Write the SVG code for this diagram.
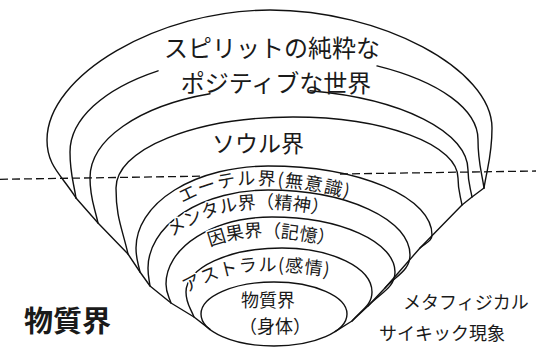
<svg xmlns="http://www.w3.org/2000/svg" width="536" height="348" viewBox="0 0 536 348">
<style>
.ln{fill:none;stroke:#111;stroke-width:1.4;stroke-linecap:round;stroke-linejoin:round}
.dash{fill:none;stroke:#111;stroke-width:1.3;stroke-dasharray:8 4}
.t{font-family:"Noto Sans CJK JP","Noto Sans CJK SC",sans-serif;fill:#1a1a1a}
.halo{stroke:#fff;stroke-width:3;paint-order:stroke;stroke-linejoin:round}
</style>
<defs>
<path id="pEther" d="M178,206 Q218,182 265,185 T352,199"/>
<path id="pMental" d="M168,240 Q205,212 250,209 T340,220"/>
<path id="pCausal" d="M206,248 Q240,235 272,237 T340,248"/>
<path id="pAstral" d="M184,295 Q222,271 262,271 T336,278"/>
</defs>
<rect width="536" height="348" fill="#fff"/>
<g id="connectors">
<path class="dash" d="M0,179.3 L200,176.2 M340,174 L536,171"/>
<path class="ln" d="M76,198 L98,223 L128,254 L140,272 L150,286 L171,303 L194,317 L210,329.4"/>
<path class="ln" d="M484,188 L472,197 L462,205 L420,248 L385,288 L368,306 L352,321 L335,331.6"/>
</g>
<g id="spirit">
<path class="ln" d="M76,198 C61.5,174.8 47,166.1 47,140 C47,75 158.5,10 270,10 C381,10 492,69 492,128 C492,155 488,164 484,188"/>
<path class="ln" d="M76,198 C73,179.6 70,172.7 70,152 A200,98 0 0 1 158,70.8 M377,65.9 A208,86 0 0 1 478,140 C478,161.6 481,168.8 484,188"/>
<path class="ln" d="M98,223 C94,205 90,198.25 90,178 A178,89 0 0 1 210,93.8 M310,90.8 A200,81 0 0 1 468,170 C468,182.2 470,186.2 472,197"/>
<text class="t" x="272" y="57" font-size="24" text-anchor="middle">スピリットの純粋な</text>
<text class="t" x="276" y="92" font-size="24" text-anchor="middle">ポジティブな世界</text>
</g>
<g id="soul">
<path class="ln" d="M128,254 C122,227.6 116,217.7 116,188 A177,71 0 0 1 293,117 A165,61 0 0 1 458,178 C458,190.2 460,194.2 462,205"/>
<text class="t" x="258" y="152" font-size="23" text-anchor="middle">ソウル界</text>
</g>
<g id="ether">
<path class="ln" d="M140,272 C138,262.4 136,258.8 136,248 A132,82 0 0 1 268,166 A164,69 0 0 1 432,235 C432,240.9 426,242.8 420,248"/>
<text class="t halo" font-size="18" letter-spacing="1.5"><textPath href="#pEther" startOffset="5">エーテル界(無意識)</textPath></text>
</g>
<g id="mental">
<path class="ln" d="M150,286 C149,278.8 148,276.1 148,268 A120,78 0 0 1 268,190 A142,65 0 0 1 410,255 C410,269.9 397.5,274.8 385,288"/>
<text class="t halo" font-size="18"><textPath href="#pMental" startOffset="5">メンタル界（精神）</textPath></text>
</g>
<g id="causal">
<path class="ln" d="M171,303 C168.5,295.4 166,292.6 166,284 A106,67 0 0 1 272,217 A123,55 0 0 1 395,272 C395,287.3 381.5,292.4 368,306"/>
<text class="t halo" font-size="18"><textPath href="#pCausal" startOffset="4">因果界（記憶）</textPath></text>
</g>
<g id="astral">
<path class="ln" d="M194,317 C190,307 186,303.3 186,292 A96,44 0 0 1 282,248 A90,44 0 0 1 372,292 C372,305 362,309.4 352,321"/>
<text class="t halo" font-size="18" letter-spacing="1"><textPath href="#pAstral" startOffset="3">アストラル(感情)</textPath></text>
</g>
<g id="physical">
<ellipse class="ln" cx="274" cy="314" rx="73" ry="32"/>
<text class="t" x="268" y="307" font-size="18" text-anchor="middle">物質界</text>
<text class="t" x="275" y="333" font-size="18" text-anchor="middle">（身体）</text>
</g>
<g id="labels">
<text class="t" x="24" y="332" font-size="29" font-weight="bold">物質界</text>
<text class="t" x="403" y="309" font-size="18">メタフィジカル</text>
<text class="t" x="379" y="340" font-size="18">サイキック現象</text>
</g>
</svg>
